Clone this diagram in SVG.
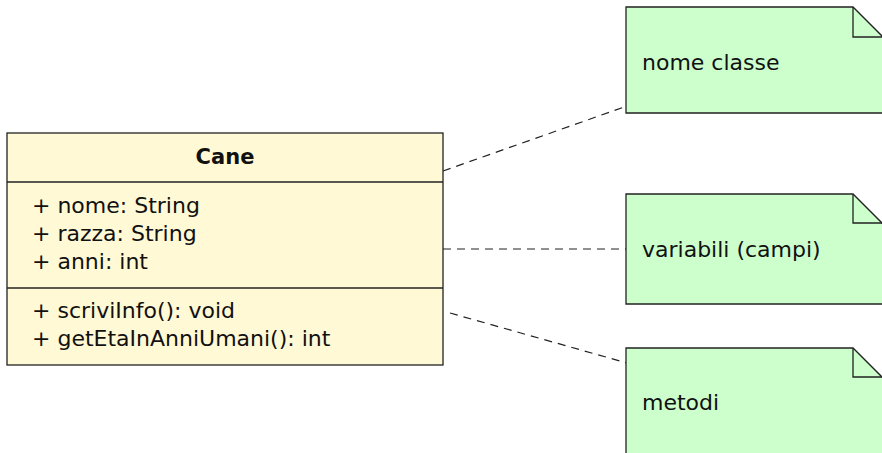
<svg xmlns="http://www.w3.org/2000/svg" width="882" height="453" viewBox="0 0 882 453">
<style>
.box{fill:#fff9d5;stroke:#222;stroke-width:1.3}
.div{stroke:#222;stroke-width:1.3}
.note{fill:#ccffcc;stroke:#222;stroke-width:1.3}
.fold{fill:none;stroke:#222;stroke-width:1.3}
.t{font-family:"DejaVu Sans",sans-serif;font-size:22px;fill:#111}
.b{font-weight:bold;font-size:21px}
.con{stroke:#222;stroke-width:1.2;stroke-dasharray:8 6;fill:none}
</style>
<rect width="882" height="453" fill="#fff"/>
<g id="connectors">
<line class="con" x1="443" y1="171" x2="627" y2="106"/>
<line class="con" x1="443" y1="249" x2="627" y2="249"/>
<line class="con" x1="450" y1="313" x2="627" y2="363"/>
</g>
<g id="cane">
<rect class="box" x="7" y="133" width="436" height="232"/>
<line class="div" x1="7" y1="182" x2="443" y2="182"/>
<line class="div" x1="7" y1="288" x2="443" y2="288"/>
<text class="t b" x="225" y="164" text-anchor="middle">Cane</text>
<text class="t" x="32" y="213">+ nome: String</text>
<text class="t" x="32" y="241">+ razza: String</text>
<text class="t" x="32" y="269">+ anni: int</text>
<text class="t" x="32" y="318">+ scriviInfo(): void</text>
<text class="t" x="32" y="346">+ getEtaInAnniUmani(): int</text>
</g>
<g id="note-nome">
<path class="note" d="M626,7 H853 L884,38 V113 H626 Z"/>
<path class="fold" d="M853,7 V37 H884"/>
<text class="t" x="642" y="70">nome classe</text>
</g>
<g id="note-variabili">
<path class="note" d="M626,194 H853 L884,225 V304 H626 Z"/>
<path class="fold" d="M853,194 V223 H884"/>
<text class="t" x="642" y="257">variabili (campi)</text>
</g>
<g id="note-metodi">
<path class="note" d="M626,348 H853 L884,379 V460 H626 Z"/>
<path class="fold" d="M853,348 V377 H884"/>
<text class="t" x="642" y="410">metodi</text>
</g>
</svg>
